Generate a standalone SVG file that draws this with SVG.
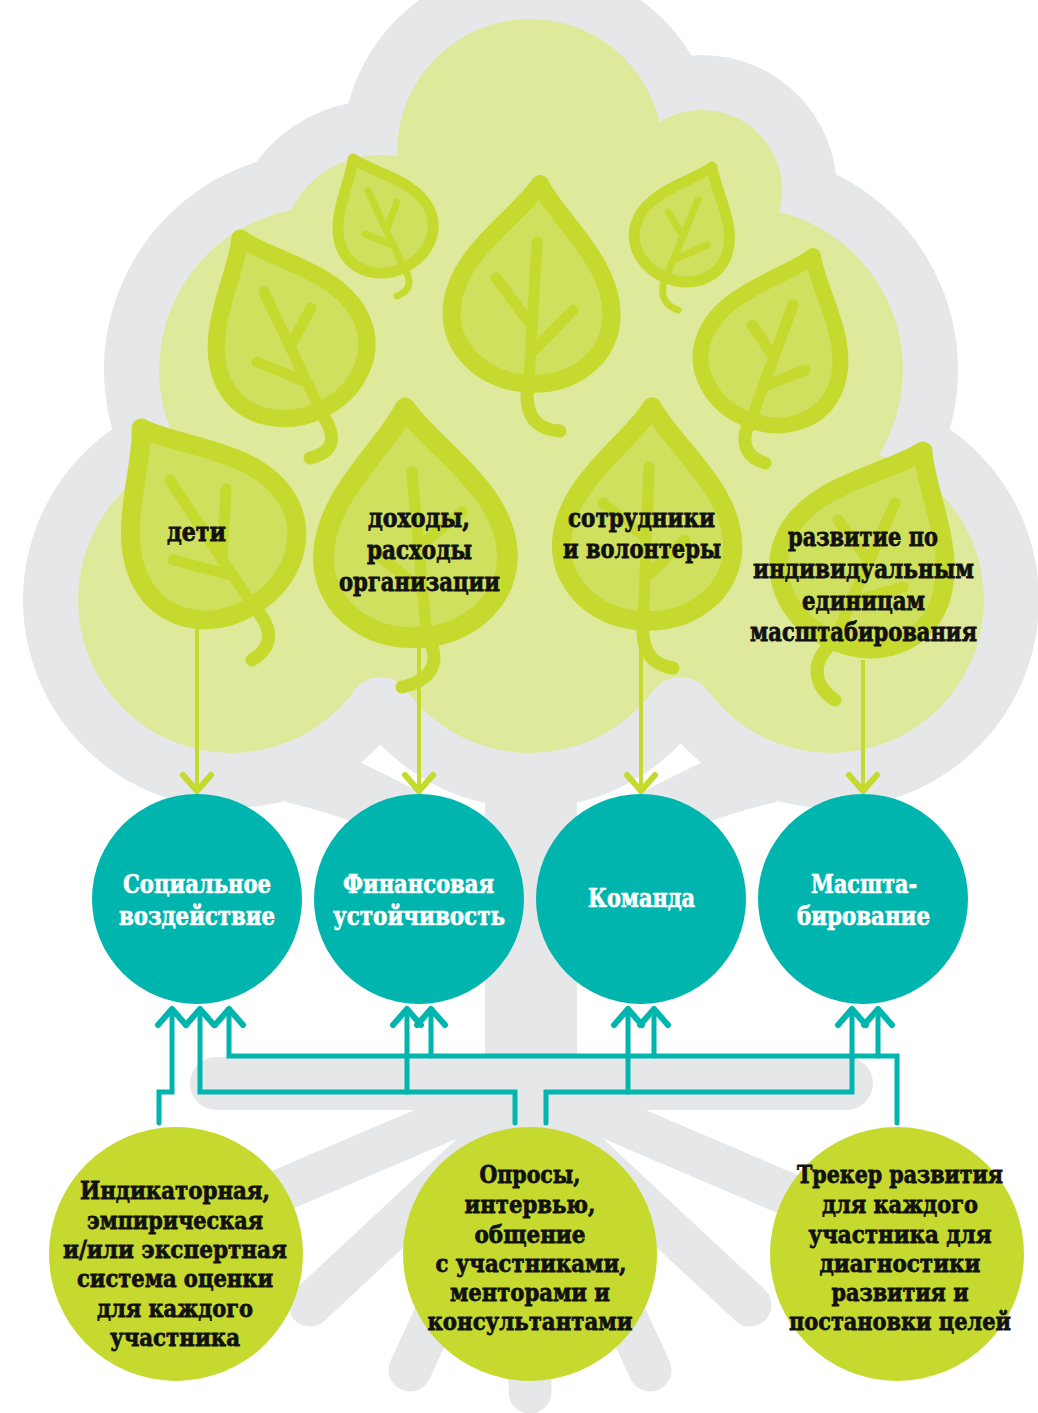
<svg xmlns="http://www.w3.org/2000/svg" xmlns:xlink="http://www.w3.org/1999/xlink" width="1038" height="1413" viewBox="0 0 1038 1413">
<style>
.gray{fill:#e6e7e8}
.root{stroke:#e6e7e8;stroke-width:43;stroke-linecap:round;fill:none}
.canopy{fill:#dfe99b}
.leaf{fill:#cfdf5e;stroke:#c5d92e;stroke-width:18;stroke-linejoin:round}
.vein{fill:none;stroke:#c5d92e;stroke-width:11;stroke-linecap:round}
.vs{stroke-width:7}
.stem{stroke-width:13}
.teal{fill:#00b5ad}
.lime{fill:#c5d92e}
.t{font-family:"DejaVu Serif","Liberation Serif",serif;font-weight:bold;text-anchor:middle}
.tw{fill:#fff;stroke:#fff;stroke-width:0.7px;font-size:26px}
.tb{fill:#111;stroke:#111;stroke-width:0.8px;font-size:26px}
.tc{fill:#111;stroke:#111;stroke-width:0.8px;font-size:25px}
.ga{stroke:#c5d92e;stroke-width:4;fill:none}
.ta{stroke:#00b5ad;stroke-width:5;fill:none;stroke-linecap:round}
</style>
<defs>
<path id="leafShape" d="M0,0 C20,35 80,75 80,130 C80,170 45,200 0,200 C-45,200 -80,170 -80,130 C-80,75 -20,35 0,0 Z"/>
<marker id="ag" markerUnits="userSpaceOnUse" markerWidth="40" markerHeight="40" viewBox="-20 -20 40 40" refX="0" refY="0" orient="auto" overflow="visible">
<path d="M-16,-14 L0,0 L-16,14" fill="none" stroke="#c5d92e" stroke-width="6" stroke-linecap="round" stroke-linejoin="round"/>
</marker>
<marker id="at" markerUnits="userSpaceOnUse" markerWidth="40" markerHeight="40" viewBox="-20 -20 40 40" refX="0" refY="0" orient="auto" overflow="visible">
<path d="M-16,-14 L0,0 L-16,14" fill="none" stroke="#00b5ad" stroke-width="6" stroke-linecap="round" stroke-linejoin="round"/>
</marker>
</defs>

<g id="tree-silhouette">
<line class="root" x1="530" y1="1084" x2="235" y2="1210"/>
<line class="root" x1="530" y1="1100" x2="310" y2="1305"/>
<line class="root" x1="530" y1="1110" x2="410" y2="1370"/>
<line class="root" x1="530" y1="1110" x2="530" y2="1392"/>
<line class="root" x1="530" y1="1110" x2="650" y2="1370"/>
<line class="root" x1="530" y1="1100" x2="750" y2="1305"/>
<line class="root" x1="530" y1="1084" x2="825" y2="1210"/>
<rect class="gray" x="190" y="1057" width="683" height="53" rx="26.5"/>
<rect class="gray" x="485" y="650" width="92" height="460"/>
<path class="gray" d="M285,802 Q360,818 485,878 L485,828 Q420,790 330,748 Z"/>
<path class="gray" d="M777,802 Q702,818 577,878 L577,828 Q642,790 732,748 Z"/>
<circle class="gray" cx="530" cy="152" r="188"/>
<circle class="gray" cx="380" cy="255" r="155"/>
<circle class="gray" cx="702" cy="190" r="135"/>
<circle class="gray" cx="322" cy="370" r="218"/>
<circle class="gray" cx="740" cy="370" r="218"/>
<circle class="gray" cx="231" cy="600" r="208"/>
<circle class="gray" cx="530" cy="600" r="208"/>
<circle class="gray" cx="831" cy="600" r="208"/>
<circle class="gray" cx="530" cy="400" r="255"/>
</g>

<g id="canopy">
<circle class="canopy" cx="530" cy="152" r="133"/>
<circle class="canopy" cx="380" cy="255" r="100"/>
<circle class="canopy" cx="702" cy="190" r="80"/>
<circle class="canopy" cx="322" cy="370" r="163"/>
<circle class="canopy" cx="740" cy="370" r="163"/>
<circle class="canopy" cx="231" cy="600" r="153"/>
<circle class="canopy" cx="530" cy="600" r="153"/>
<circle class="canopy" cx="831" cy="600" r="153"/>
<circle class="canopy" cx="530" cy="400" r="200"/>
<path class="canopy" d="M354.6,690.1 A32,32 0 0 1 406.4,690.1 L380.5,600 Z"/>
<path class="canopy" d="M653.1,690.8 A34,34 0 0 1 707.9,690.8 L680.5,600 Z"/>
</g>

<g id="leaf-top">
<use href="#leafShape" class="leaf" transform="translate(540,184) rotate(3.7)"/>
<path class="vein" d="M537,242 L528,398 M534,350 L573,310 M532,326 L496,278"/>
<path class="vein stem" d="M527,395 C527,420 540,430 560,431"/>
</g>
<g id="leaf-upper-left">
<use href="#leafShape" class="leaf" transform="translate(240,238) rotate(-25) scale(0.95)"/>
<path class="vein" d="M264,292 L324,418 M292,343 L311,308 M257,362 L304,381"/>
<path class="vein stem" d="M322,414 C338,438 334,452 310,458"/>
</g>
<g id="leaf-small-left">
<use href="#leafShape" class="leaf" transform="translate(353,159) rotate(-25) scale(0.6)"/>
<path class="vein vs" d="M368,191 L405,270 M397,202 L387,228 M365,234 L392,245"/>
<path class="vein vs" d="M404,268 C414,283 408,292 397,296"/>
</g>
<g id="leaf-small-right">
<use href="#leafShape" class="leaf" transform="translate(712,167) rotate(23) scale(0.6)"/>
<path class="vein vs" d="M698,200 L664,282 M668,212 L681,233 M707,245 L678,258"/>
<path class="vein vs" d="M664,280 C660,297 665,305 678,310"/>
</g>
<g id="leaf-right">
<use href="#leafShape" class="leaf" transform="translate(813,256) rotate(22) scale(0.88)"/>
<path class="vein" d="M793,305 L748,428 M752,325 L771,353 M805,370 L767,385"/>
<path class="vein stem" d="M748,425 C740,445 748,458 765,463"/>
</g>

<g id="leaf-deti">
<use href="#leafShape" class="leaf" transform="translate(141,428) rotate(-33) scale(1.05)"/>
<path class="vein" d="M170,480 L257,612 M226,489 L222,560 M173,560 L231,575"/>
<path class="vein stem" d="M255,608 C275,630 272,648 252,660"/>
<text class="t tb" x="196.5" y="541" textLength="59" lengthAdjust="spacingAndGlyphs">дети</text>
</g>
<g id="leaf-finance">
<use href="#leafShape" class="leaf" transform="translate(405,408) rotate(-4) scale(1.15)"/>
<path class="vein" d="M412,472 L427,640 M462,512 L420,545 M376,553 L421,590"/>
<path class="vein stem" d="M427,636 C442,662 432,680 402,687"/>
<text class="t tb" x="419" y="527" textLength="102" lengthAdjust="spacingAndGlyphs">доходы,</text>
<text class="t tb" x="419.5" y="559" textLength="105" lengthAdjust="spacingAndGlyphs">расходы</text>
<text class="t tb" x="419.5" y="591" textLength="161" lengthAdjust="spacingAndGlyphs">организации</text>
</g>
<g id="leaf-team">
<use href="#leafShape" class="leaf" transform="translate(652,407) rotate(2) scale(1.07)"/>
<path class="vein" d="M649,467 L643,628 M603,503 L646,538 M685,540 L645,578"/>
<path class="vein stem" d="M643,626 C642,652 652,665 673,668"/>
<text class="t tb" x="641.5" y="527" textLength="147" lengthAdjust="spacingAndGlyphs">сотрудники</text>
<text class="t tb" x="642" y="558" textLength="158" lengthAdjust="spacingAndGlyphs">и волонтеры</text>
</g>
<g id="leaf-scale">
<use href="#leafShape" class="leaf" transform="translate(923,451) rotate(27) scale(1.05)"/>
<path class="vein" d="M895,503 L832,645 M838,520 L869,561 M903,587 L851,602"/>
<path class="vein stem" d="M830,645 C812,662 812,685 835,700"/>
<text class="t tb" x="863" y="546" textLength="150" lengthAdjust="spacingAndGlyphs">развитие по</text>
<text class="t tb" x="863.5" y="578" textLength="221" lengthAdjust="spacingAndGlyphs">индивидуальным</text>
<text class="t tb" x="863.5" y="610" textLength="123" lengthAdjust="spacingAndGlyphs">единицам</text>
<text class="t tb" x="863.5" y="641" textLength="227" lengthAdjust="spacingAndGlyphs">масштабирования</text>
</g>

<g id="connectors">
<line class="ga" x1="197" y1="626" x2="197" y2="791" marker-end="url(#ag)"/>
<line class="ga" x1="419" y1="645" x2="419" y2="791" marker-end="url(#ag)"/>
<line class="ga" x1="641" y1="630" x2="641" y2="791" marker-end="url(#ag)"/>
<line class="ga" x1="863" y1="660" x2="863" y2="791" marker-end="url(#ag)"/>
<path class="ta" d="M159,1123 V1092 H172 V1009" marker-end="url(#at)"/>
<path class="ta" d="M515,1123 V1092 H200 V1009" marker-end="url(#at)"/>
<path class="ta" d="M407,1092 V1009" marker-end="url(#at)"/>
<path class="ta" d="M546,1123 V1092 H852 V1009" marker-end="url(#at)"/>
<path class="ta" d="M628,1092 V1009" marker-end="url(#at)"/>
<path class="ta" d="M897,1123 V1056 H229 V1009" marker-end="url(#at)"/>
<path class="ta" d="M431,1056 V1009" marker-end="url(#at)"/>
<path class="ta" d="M654,1056 V1009" marker-end="url(#at)"/>
<path class="ta" d="M878,1056 V1009" marker-end="url(#at)"/>
</g>

<g id="node-social">
<circle class="teal" cx="197" cy="899" r="105"/>
<text class="t tw" x="197" y="893" textLength="148" lengthAdjust="spacingAndGlyphs">Социальное</text>
<text class="t tw" x="197" y="925" textLength="156" lengthAdjust="spacingAndGlyphs">воздействие</text>
</g>
<g id="node-finance">
<circle class="teal" cx="419" cy="899" r="105"/>
<text class="t tw" x="418.5" y="893" textLength="151" lengthAdjust="spacingAndGlyphs">Финансовая</text>
<text class="t tw" x="419" y="925" textLength="172" lengthAdjust="spacingAndGlyphs">устойчивость</text>
</g>
<g id="node-team">
<circle class="teal" cx="641" cy="899" r="105"/>
<text class="t tw" x="641.5" y="907" textLength="107" lengthAdjust="spacingAndGlyphs">Команда</text>
</g>
<g id="node-scale">
<circle class="teal" cx="863" cy="899" r="105"/>
<text class="t tw" x="864" y="893" textLength="106" lengthAdjust="spacingAndGlyphs">Масшта-</text>
<text class="t tw" x="863.5" y="925" textLength="133" lengthAdjust="spacingAndGlyphs">бирование</text>
</g>

<g id="node-indicator">
<circle class="lime" cx="176" cy="1254" r="127"/>
<text class="t tc" x="175" y="1199" textLength="190" lengthAdjust="spacingAndGlyphs">Индикаторная,</text>
<text class="t tc" x="175" y="1229" textLength="176" lengthAdjust="spacingAndGlyphs">эмпирическая</text>
<text class="t tc" x="175" y="1258" textLength="224" lengthAdjust="spacingAndGlyphs">и/или экспертная</text>
<text class="t tc" x="175" y="1287" textLength="196" lengthAdjust="spacingAndGlyphs">система оценки</text>
<text class="t tc" x="175" y="1317" textLength="156" lengthAdjust="spacingAndGlyphs">для каждого</text>
<text class="t tc" x="175" y="1346" textLength="130" lengthAdjust="spacingAndGlyphs">участника</text>
</g>
<g id="node-surveys">
<circle class="lime" cx="530" cy="1254" r="127"/>
<text class="t tc" x="530" y="1183" textLength="101" lengthAdjust="spacingAndGlyphs">Опросы,</text>
<text class="t tc" x="530" y="1213" textLength="131" lengthAdjust="spacingAndGlyphs">интервью,</text>
<text class="t tc" x="530" y="1243" textLength="111" lengthAdjust="spacingAndGlyphs">общение</text>
<text class="t tc" x="531" y="1272" textLength="191" lengthAdjust="spacingAndGlyphs">с участниками,</text>
<text class="t tc" x="530" y="1301" textLength="160" lengthAdjust="spacingAndGlyphs">менторами и</text>
<text class="t tc" x="530" y="1330" textLength="205" lengthAdjust="spacingAndGlyphs">консультантами</text>
</g>
<g id="node-tracker">
<circle class="lime" cx="897" cy="1254" r="127"/>
<text class="t tc" x="900" y="1183" textLength="206" lengthAdjust="spacingAndGlyphs">Трекер развития</text>
<text class="t tc" x="900" y="1213" textLength="156" lengthAdjust="spacingAndGlyphs">для каждого</text>
<text class="t tc" x="900" y="1243" textLength="183" lengthAdjust="spacingAndGlyphs">участника для</text>
<text class="t tc" x="900" y="1272" textLength="161" lengthAdjust="spacingAndGlyphs">диагностики</text>
<text class="t tc" x="900" y="1301" textLength="137" lengthAdjust="spacingAndGlyphs">развития и</text>
<text class="t tc" x="900" y="1330" textLength="222" lengthAdjust="spacingAndGlyphs">постановки целей</text>
</g>
</svg>
